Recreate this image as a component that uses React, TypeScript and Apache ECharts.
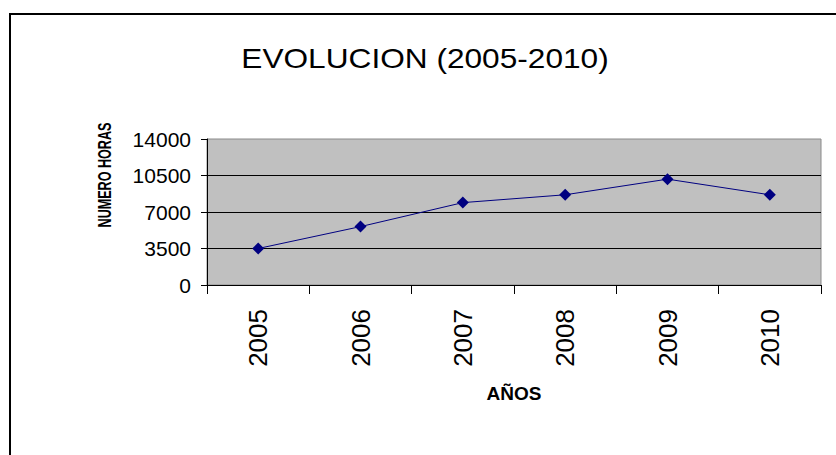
import React, { useEffect, useRef } from "react";
import * as echarts from "echarts";

const years = ["2005", "2006", "2007", "2008", "2009", "2010"];
const hours = [3500, 5600, 7900, 8650, 10150, 8650];
const yTicks = { min: 0, max: 14000, interval: 3500 };
const titleText = "EVOLUCION (2005-2010)";
const yName = "NUMERO HORAS";
const xName = "AÑOS";

const FONT = 'Arial, "Liberation Sans", sans-serif';

export default function App() {
  const ref = useRef<HTMLDivElement>(null);
  useEffect(() => {
    document.body.style.margin = "0";
    const chart = echarts.init(ref.current!, null, { renderer: "svg" });
    chart.setOption({
      animation: false,
      backgroundColor: "#ffffff",
      grid: {
        left: 207,
        top: 139,
        right: 15,
        bottom: 170,
        show: true,
        backgroundColor: "#c0c0c0",
        borderColor: "#8a8a8a",
        borderWidth: 1,
      },
      graphic: [
        {
          type: "rect",
          shape: { x: 10, y: 14, width: 900, height: 600 },
          style: { fill: "none", stroke: "#000", lineWidth: 2 },
          silent: true,
        },
        {
          type: "text",
          x: 425,
          y: 58,
          scaleX: 1.13,
          style: {
            text: titleText,
            font: `28px ${FONT}`,
            fill: "#000",
            textAlign: "center",
            textVerticalAlign: "middle",
          },
        },
        {
          type: "text",
          x: 105,
          y: 175,
          rotation: Math.PI / 2,
          scaleX: 0.7,
          style: {
            text: yName,
            font: `bold 18px ${FONT}`,
            fill: "#000",
            textAlign: "center",
            textVerticalAlign: "middle",
          },
        },
      ],
      xAxis: {
        type: "category",
        data: years,
        boundaryGap: true,
        name: xName,
        nameLocation: "middle",
        nameGap: 99,
        nameTextStyle: { fontFamily: FONT, fontWeight: "bold", fontSize: 19, color: "#000" },
        axisLine: { show: true, lineStyle: { color: "#000", width: 1 } },
        axisTick: { show: true, alignWithLabel: false, length: 9, lineStyle: { color: "#000" } },
        axisLabel: {
          rotate: 90,
          margin: 24,
          fontFamily: FONT,
          fontSize: 26,
          color: "#000",
        },
        splitLine: { show: false },
      },
      yAxis: {
        type: "value",
        min: yTicks.min,
        max: yTicks.max,
        interval: yTicks.interval,
        axisLine: { show: true, lineStyle: { color: "#000", width: 1 } },
        axisTick: { show: true, length: 6, lineStyle: { color: "#000" } },
        axisLabel: {
          margin: 16,
          fontFamily: FONT,
          fontSize: 21,
          color: "#000",
          formatter: (v: number) => String(v),
        },
        splitLine: { show: true, showMaxLine: false, lineStyle: { color: "#000", width: 1 } },
      },
      series: [
        {
          type: "line",
          data: hours,
          symbol: "diamond",
          symbolSize: 12,
          lineStyle: { color: "#000080", width: 1 },
          itemStyle: { color: "#000080" },
        },
      ],
    });
    return () => chart.dispose();
  }, []);
  return <div ref={ref} style={{ width: 836, height: 455 }} />;
}
